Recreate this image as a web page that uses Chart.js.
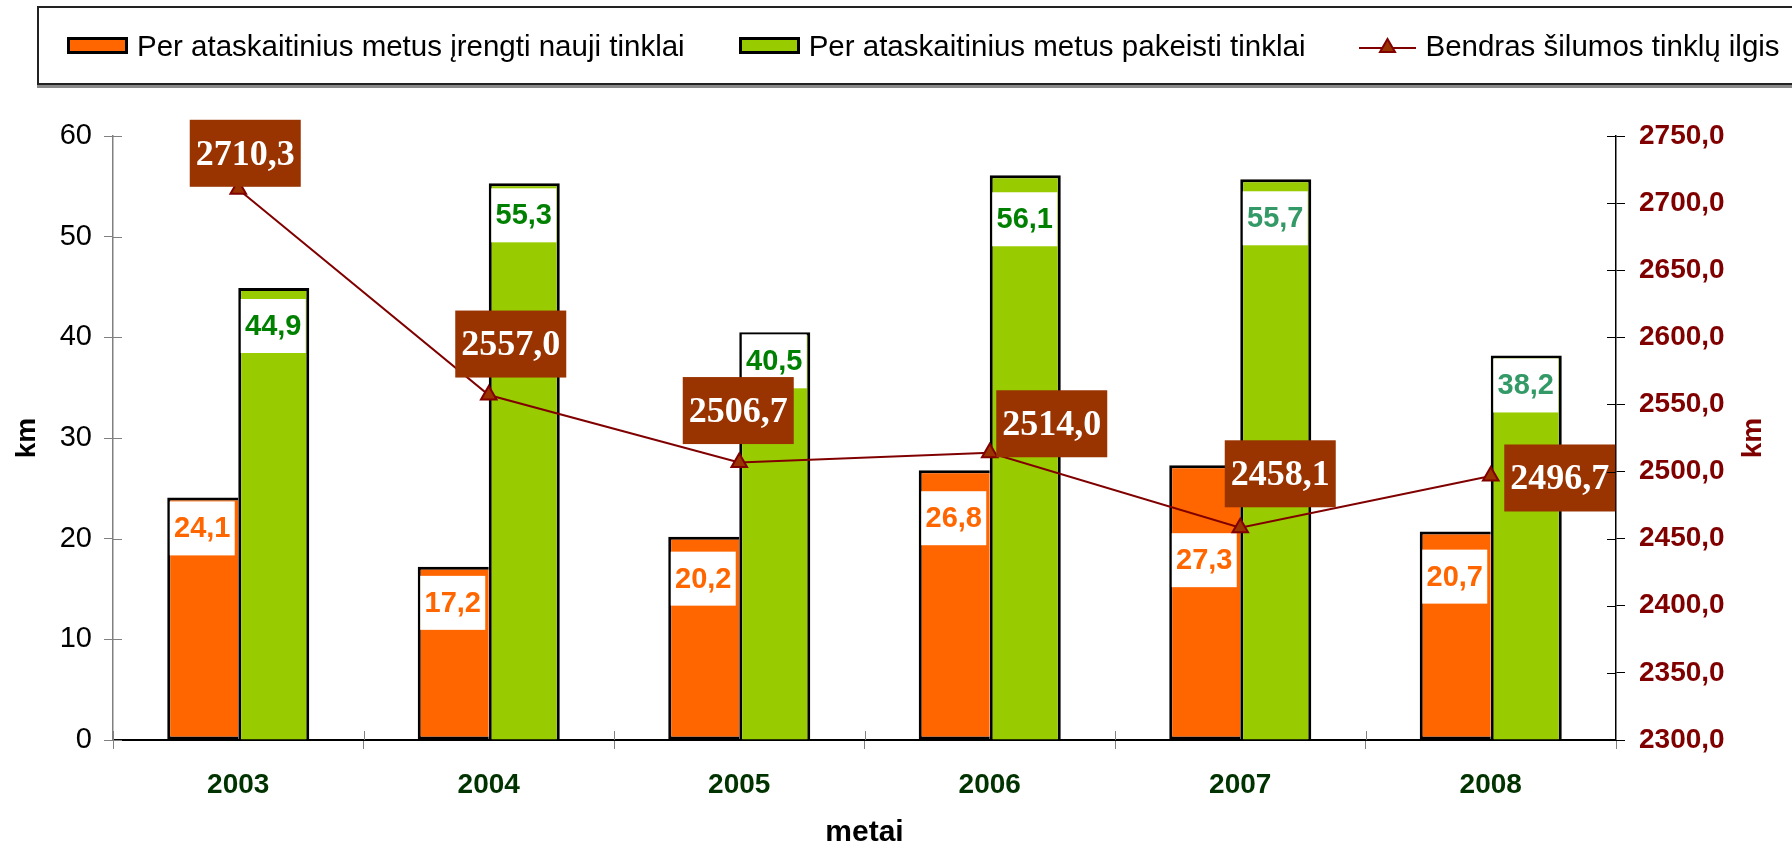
<!DOCTYPE html>
<html>
<head>
<meta charset="utf-8">
<script src="https://cdn.jsdelivr.net/npm/chart.js@4.4.1/dist/chart.umd.min.js"></script>
<style>
  body { margin: 0; background: #fff; }
  #wrap { position: relative; width: 1792px; height: 845px; overflow: hidden; }
  #chart { position: absolute; left: 0; top: 0; }
  #legend {
    position: absolute; left: 37px; top: 6px; width: 1800px; height: 79px;
    border: 2px solid #222; box-shadow: 0 3px 0 #8a8a8a; box-sizing: border-box;
    display: flex; align-items: center; padding-left: 28px; background: #fff;
    font: 29.5px "Liberation Sans", Arial, sans-serif; color: #000; white-space: nowrap;
  }
  .item { display: flex; align-items: center; margin-right: 54px; }
  .sw { width: 55px; height: 11px; border: 3px solid #000; margin-right: 9px; }
  .lw { margin-right: 9px; }
</style>
</head>
<body>
<div id="wrap">
  <canvas id="chart" width="1792" height="845"></canvas>
  <div id="legend"></div>
</div>
<script>
const years = ['2003', '2004', '2005', '2006', '2007', '2008'];
const newNets = [24.1, 17.2, 20.2, 26.8, 27.3, 20.7];
const replacedNets = [44.9, 55.3, 40.5, 56.1, 55.7, 38.2];
const totalLength = [2710.3, 2557.0, 2506.7, 2514.0, 2458.1, 2496.7];
const seriesNames = [
  'Per ataskaitinius metus įrengti nauji tinklai',
  'Per ataskaitinius metus pakeisti tinklai',
  'Bendras šilumos tinklų ilgis'
];
const kmTicks = [0, 10, 20, 30, 40, 50, 60];
const totalTicks = [2300, 2350, 2400, 2450, 2500, 2550, 2600, 2650, 2700, 2750];

// label placement (how far below the bar top / where the brown boxes sit)
const newLabelDrop = [31, 36, 42, 48, 95, 45];
const replLabelDrop = [38, 32, 29, 44, 39, 30];
const replLabelColors = ['#008000', '#008000', '#008000', '#008000', '#339966', '#339966'];
const totalLabelShift = [[7, -36], [22, -51], [-1, -52], [62, -29], [40, -54], [69, 2]];

const SANS = '"Liberation Sans", Arial, sans-serif';
const SERIF = '"Liberation Serif", "Times New Roman", serif';

function fmt(v) {
  return v.toFixed(1).replace('.', ',');
}

const valueLabels = {
  id: 'valueLabels',
  afterDatasetDraw(chart, args) {
    if (args.index > 1) return;
    const ctx = chart.ctx;
    const values = args.index === 0 ? newNets : replacedNets;
    const drops = args.index === 0 ? newLabelDrop : replLabelDrop;
    ctx.save();
    ctx.font = 'bold 29px ' + SANS;
    ctx.textAlign = 'center';
    ctx.textBaseline = 'middle';
    args.meta.data.forEach((bar, i) => {
      const cy = bar.y + drops[i];
      ctx.fillStyle = '#ffffff';
      ctx.fillRect(bar.x - 33, cy - 27, 65, 54);
      ctx.fillStyle = args.index === 0 ? '#FF6600' : replLabelColors[i];
      ctx.fillText(fmt(values[i]), bar.x - 0.5, cy + 1);
    });
    ctx.restore();
  },
  afterDatasetsDraw(chart) {
    const ctx = chart.ctx;
    const meta = chart.getDatasetMeta(2);
    ctx.save();
    ctx.font = 'bold 36px ' + SERIF;
    ctx.textAlign = 'center';
    ctx.textBaseline = 'middle';
    meta.data.forEach((pt, i) => {
      const text = fmt(totalLength[i]);
      const w = ctx.measureText(text).width + 12;
      const cx = pt.x + totalLabelShift[i][0];
      const cy = pt.y + totalLabelShift[i][1];
      ctx.fillStyle = '#993300';
      ctx.fillRect(cx - w / 2, cy - 33.5, w, 67);
      ctx.fillStyle = '#ffffff';
      ctx.fillText(text, cx, cy + 2);
    });
    ctx.restore();
  }
};

// tick marks that cross the axis lines + right axis title (reads bottom to top)
const axisExtras = {
  id: 'axisExtras',
  afterDraw(chart) {
    const ctx = chart.ctx;
    const { x, y, y1 } = chart.scales;
    ctx.save();
    ctx.lineWidth = 1;
    ctx.strokeStyle = '#808080';
    ctx.beginPath();
    y.ticks.forEach((t, i) => {
      const py = Math.round(y.getPixelForTick(i)) + 0.5;
      ctx.moveTo(y.right, py);
      ctx.lineTo(y.right + 9, py);
    });
    for (let i = 0; i <= years.length; i++) {
      const px = Math.round(x.getPixelForValue(i - 0.5)) + 0.5;
      ctx.moveTo(px, x.top);
      ctx.lineTo(px, x.top - 9);
    }
    ctx.stroke();
    ctx.strokeStyle = '#000000';
    ctx.beginPath();
    y1.ticks.forEach((t, i) => {
      const py = Math.round(y1.getPixelForTick(i)) + 0.5;
      ctx.moveTo(y1.left - 9, py);
      ctx.lineTo(y1.left, py);
    });
    ctx.stroke();

    const area = chart.chartArea;
    ctx.translate(1753, (area.top + area.bottom) / 2);
    ctx.rotate(-Math.PI / 2);
    ctx.font = 'bold 28px ' + SANS;
    ctx.fillStyle = '#800000';
    ctx.textAlign = 'center';
    ctx.textBaseline = 'middle';
    ctx.fillText('km', 0, 0);
    ctx.restore();
  }
};

const ctx = document.getElementById('chart').getContext('2d');

const chart = new Chart(ctx, {
  type: 'bar',
  data: {
    labels: years,
    datasets: [
      {
        label: seriesNames[0],
        data: newNets,
        backgroundColor: '#FF6600',
        borderColor: '#000000',
        borderWidth: 3,
        borderSkipped: 'right',
        yAxisID: 'y',
        order: 1
      },
      {
        label: seriesNames[1],
        data: replacedNets,
        backgroundColor: '#99CC00',
        borderColor: '#000000',
        borderWidth: 3,
        yAxisID: 'y',
        order: 1
      },
      {
        type: 'line',
        label: seriesNames[2],
        data: totalLength,
        borderColor: '#800000',
        borderWidth: 2,
        pointStyle: 'triangle',
        pointRadius: 9,
        pointBackgroundColor: '#993300',
        pointBorderColor: '#800000',
        pointBorderWidth: 2,
        tension: 0,
        yAxisID: 'y1',
        order: 0
      }
    ]
  },
  options: {
    responsive: false,
    animation: false,
    layout: { padding: { top: 136, left: 0, right: 0, bottom: 0 } },
    datasets: {
      bar: { categoryPercentage: 0.567, barPercentage: 1.0 }
    },
    plugins: {
      legend: { display: false },
      tooltip: { enabled: false },
      title: { display: false }
    },
    scales: {
      x: {
        offset: true,
        grid: { offset: true, drawOnChartArea: false, tickLength: 9, color: '#808080' },
        border: { color: '#000000', width: 2 },
        ticks: { color: '#003300', font: { family: SANS, size: 28, weight: 'bold' }, padding: 19 },
        title: {
          display: true, text: 'metai', color: '#000000',
          font: { family: SANS, size: 30, weight: 'bold', lineHeight: 0.8 },
          padding: 0
        },
        afterFit(scale) { scale.height = 105; }
      },
      y: {
        position: 'left',
        min: 0,
        max: 60,
        afterBuildTicks(scale) { scale.ticks = kmTicks.map(v => ({ value: v })); },
        grid: { drawOnChartArea: false, tickLength: 9, color: '#808080' },
        border: { color: '#808080', width: 1.5 },
        ticks: { color: '#000000', font: { family: SANS, size: 29 }, padding: 12 },
        title: {
          display: true, text: 'km', color: '#000000',
          font: { family: SANS, size: 28, weight: 'bold', lineHeight: 1 },
          padding: 13
        },
        afterFit(scale) { scale.width = 113; }
      },
      y1: {
        position: 'right',
        min: 2300,
        max: 2750,
        afterBuildTicks(scale) { scale.ticks = totalTicks.map(v => ({ value: v })); },
        grid: { drawOnChartArea: false, tickLength: 9, color: '#000000' },
        border: { color: '#000000', width: 1.5 },
        ticks: {
          color: '#800000', font: { family: SANS, size: 28, weight: 'bold' }, padding: 14,
          callback: v => fmt(v)
        },
        afterFit(scale) { scale.width = 176; }
      }
    }
  },
  plugins: [valueLabels, axisExtras]
});

// legend as HTML, built from the datasets
const legendEl = document.getElementById('legend');
chart.data.datasets.forEach(ds => {
  const item = document.createElement('div');
  item.className = 'item';
  if (ds.type === 'line') {
    item.innerHTML =
      '<svg class="lw" width="57" height="22" viewBox="0 0 57 22">' +
      '<line x1="0" y1="13" x2="57" y2="13" stroke="' + ds.borderColor + '" stroke-width="2"/>' +
      '<polygon points="28.5,4 36,17 21,17" fill="' + ds.pointBackgroundColor + '" stroke="' + ds.pointBorderColor + '" stroke-width="2"/>' +
      '</svg>';
  } else {
    const sw = document.createElement('span');
    sw.className = 'sw';
    sw.style.background = ds.backgroundColor;
    item.appendChild(sw);
  }
  const txt = document.createElement('span');
  txt.textContent = ds.label;
  item.appendChild(txt);
  legendEl.appendChild(item);
});
</script>
</body>
</html>
